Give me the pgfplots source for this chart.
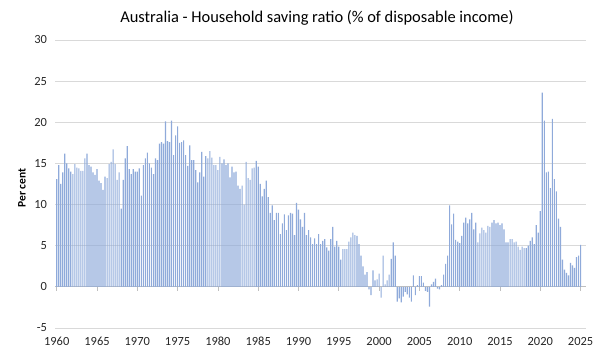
\documentclass[border=0pt]{standalone}
\usepackage{pgfplots}
\pgfplotsset{compat=1.18}
\usepackage{pgfplotstable}
\usepackage{fontspec}
\setmainfont{Carlito}
\definecolor{barblue}{RGB}{143,170,218}
\definecolor{gridgray}{RGB}{217,217,217}
\definecolor{axgray}{RGB}{191,191,191}
% Quarterly household saving ratio, 1960Q1 ... 2025Q1
\pgfplotstableread{
v
13.1
14.8
12.5
13.9
16.2
15.0
14.4
14.0
13.7
14.9
14.5
14.4
14.1
14.1
15.6
16.2
14.8
14.6
13.9
13.6
14.3
12.9
12.6
11.8
13.4
13.2
14.9
15.2
16.7
14.9
13.0
13.9
9.5
13.0
15.6
17.1
14.3
13.7
14.3
14.0
14.0
14.4
11.1
14.8
15.6
16.3
15.0
14.5
13.7
15.6
15.4
17.4
17.6
17.4
20.1
17.7
17.6
20.2
16.0
18.4
19.5
17.5
17.6
17.8
16.0
14.7
17.2
15.4
15.4
14.2
12.7
13.9
16.4
13.4
15.9
15.6
16.5
15.7
14.8
14.8
14.2
15.8
15.0
15.5
14.8
15.0
13.3
14.6
13.9
14.0
12.3
11.9
12.3
10.0
15.2
13.2
13.0
14.4
14.5
15.3
14.6
12.5
11.0
11.9
12.9
10.9
9.0
9.9
8.1
9.0
9.0
6.4
7.7
8.8
6.9
8.7
9.0
8.9
6.3
10.2
9.4
8.2
7.3
9.0
6.3
6.9
6.0
5.2
5.9
5.2
6.4
5.2
5.6
5.8
4.8
4.4
5.8
7.3
4.9
5.6
4.9
3.3
4.6
4.6
4.6
5.5
6.0
6.6
6.3
6.2
5.2
3.8
2.5
1.5
1.8
-0.3
-1.0
2.0
0.8
0.9
1.6
-1.3
3.8
0.3
0.8
1.5
3.4
5.4
3.8
-1.8
-1.4
-1.9
-1.2
-0.6
-0.9
-1.3
-1.8
1.4
-1.0
0.2
1.3
1.3
0.5
-0.5
-0.6
-2.4
0.3
0.6
1.0
-0.2
-0.3
0.2
1.5
2.8
3.8
9.9
7.6
8.9
5.7
5.5
5.3
6.2
7.8
8.4
7.7
8.2
9.0
7.0
7.8
5.4
6.5
7.2
6.9
6.6
7.4
7.3
7.8
8.1
7.7
7.8
7.5
7.7
7.0
5.4
5.4
5.8
5.8
5.4
5.5
4.9
4.5
4.9
4.7
4.7
5.0
5.6
6.0
5.2
7.5
6.6
9.2
23.6
20.2
13.9
14.0
12.0
20.4
13.1
11.6
8.3
7.3
3.3
2.1
1.7
1.4
2.9
2.6
2.3
3.6
3.8
5.1
}\ratio
\begin{document}
\begin{tikzpicture}
\useasboundingbox (-55.5bp,-32bp) rectangle (544.5bp,328bp);
\begin{axis}[
  scale only axis,
  width=530.5bp, height=288bp,
  xmin=1959.85, xmax=2025.67,
  ymin=-5, ymax=30,
  axis x line*=middle,
  axis y line*=left,
  hide obscured x ticks=false,
  hide obscured y ticks=false,
  x axis line style={axgray, line width=0.9bp},
  y axis line style={draw=none},
  xtick={1960,1965,...,2025},
  xticklabels={1960,1965,1970,1975,1980,1985,1990,1995,2000,2005,2010,2015,2020,2025},
  ytick={-5,0,5,10,15,20,25,30},
  yticklabels={-5,0,5,10,15,20,25,30},
  tick align=outside,
  major tick length=4bp,
  xtick style={axgray, line width=0.8bp},
  ytick style={draw=none},
  ymajorgrids,
  major grid style={gridgray, line width=0.9bp},
  tick label style={font=\fontsize{12.5}{14}\selectfont, text=black!85},
  xticklabel style={anchor=north, yshift=-43bp},
  yticklabel style={anchor=east, xshift=-1bp},
  ylabel={\bfseries Per cent},
  ylabel style={at={(axis description cs:-0.063,0.486)}, anchor=center, font=\fontsize{11.5}{13}\selectfont},
  title={Australia - Household saving ratio (\% of disposable income)},
  title style={at={(axis description cs:0.493,1)}, anchor=center, yshift=16bp, font=\fontsize{16.5}{19}\selectfont},
]
\addplot[ybar, bar width=1.15bp, bar shift=0pt, fill=barblue, draw=none]
  table[x expr=1960+\coordindex/4, y=v] {\ratio};
\end{axis}
\end{tikzpicture}
\end{document}
